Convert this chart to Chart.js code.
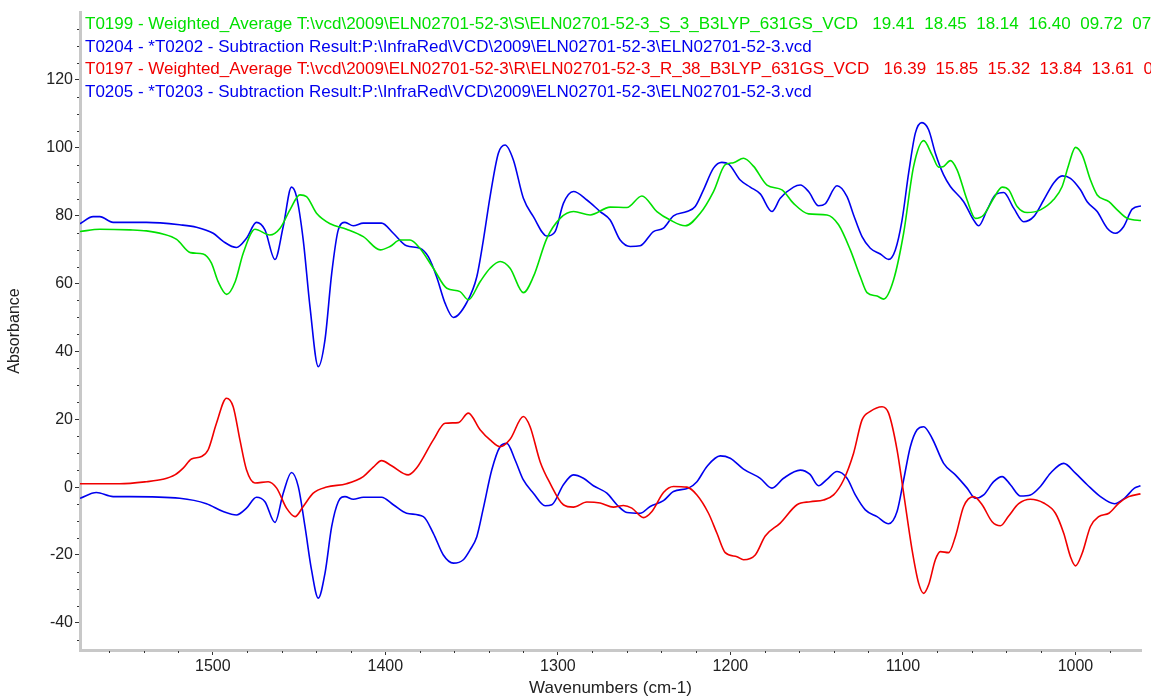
<!DOCTYPE html>
<html>
<head>
<meta charset="utf-8">
<title>VCD spectra</title>
<script src="https://cdn.jsdelivr.net/npm/chart.js@4.4.1/dist/chart.umd.min.js"></script>
<style>
  body { margin: 0; background: #fff; }
  canvas { display: block; }
</style>
</head>
<body>
<canvas id="vcdChart" width="1151" height="700"></canvas>
<script>
// axis ticks
const xTicks = [1500, 1400, 1300, 1200, 1100, 1000];
const yTicks = [-40, -20, 0, 20, 40, 60, 80, 100, 120];

// T0199 (green) - weighted average S
const t0199Wn = [1577, 1565.5, 1548, 1538.5, 1529, 1521, 1513, 1505.6, 1500.8, 1497, 1492, 1487, 1482.4, 1475.6, 1467, 1461, 1455.3, 1449.5, 1445.7, 1439.9, 1432, 1422.5, 1412.8, 1403, 1397.3, 1391.5, 1385.7, 1380, 1372.2, 1364.4, 1356.7, 1351.9, 1345, 1339.3, 1333.5, 1327.7, 1320, 1314.2, 1306.4, 1298.7, 1290.9, 1281.3, 1269.7, 1260, 1251.3, 1242.6, 1234.9, 1226.2, 1217.5, 1209.8, 1203, 1198.2, 1192.4, 1186.5, 1178.8, 1170.1, 1163.4, 1154.7, 1144, 1137.3, 1130.5, 1124.7, 1120.8, 1115, 1111.2, 1105.4, 1099.6, 1093.8, 1088, 1083.1, 1079.3, 1076.4, 1072.5, 1068.6, 1062.8, 1058, 1053.2, 1047.4, 1042.5, 1038.7, 1033.8, 1028, 1020.3, 1012.5, 1007.7, 1003.9, 1000, 996.1, 991.3, 987.4, 980.6, 975.8, 970, 961.3];
const t0199Abs = [75.3, 76.0, 75.8, 75.5, 74.6, 73.0, 69.1, 68.7, 66.0, 60.6, 56.8, 60.6, 68.9, 76.0, 74.3, 76.3, 81.7, 86.1, 85.6, 80.7, 77.6, 76.0, 73.8, 69.9, 70.9, 72.8, 72.8, 70.4, 64.5, 58.6, 57.6, 55.2, 60.6, 64.5, 66.5, 64.5, 57.3, 62.0, 73.3, 79.2, 81.2, 80.2, 82.5, 82.4, 85.8, 81.2, 78.7, 77.0, 80.7, 87.1, 95.0, 95.6, 96.9, 94.5, 89.0, 87.6, 83.6, 80.5, 80.2, 77.3, 69.9, 62.0, 57.3, 56.3, 55.4, 61.1, 74.8, 94.5, 102.1, 97.9, 94.3, 94.5, 96.2, 93.5, 84.6, 79.2, 80.2, 85.1, 88.4, 87.6, 82.7, 80.9, 81.7, 84.8, 88.6, 95.0, 100.1, 97.9, 90.5, 86.1, 84.1, 81.7, 79.2, 78.5];

// T0204 (blue, upper) - subtraction result
const t0204Wn = [1577, 1569.4, 1565.5, 1557.8, 1538.5, 1519.2, 1509.5, 1499.8, 1494, 1486.3, 1480.5, 1474.7, 1469.8, 1464, 1459.2, 1454.4, 1451.5, 1447.6, 1443.7, 1438.9, 1435, 1431.1, 1427.3, 1423.4, 1418.6, 1412.8, 1402.2, 1395.4, 1387.7, 1380, 1375.1, 1370.3, 1365.4, 1360.6, 1352.8, 1347, 1343.2, 1339.3, 1334.5, 1330.6, 1325.8, 1320, 1314.2, 1306.4, 1301.6, 1296.8, 1291, 1283.2, 1275.5, 1269.7, 1263.9, 1258.1, 1252.3, 1244.6, 1238.8, 1233, 1225.2, 1220.4, 1215.6, 1209.8, 1205, 1201, 1194.3, 1188.5, 1182.7, 1175.9, 1171.1, 1163.4, 1159.5, 1154.7, 1148.9, 1145, 1138.2, 1132.4, 1128.6, 1123.7, 1118.9, 1113.1, 1108.3, 1104.4, 1100.5, 1096.7, 1092.8, 1089, 1085.1, 1081.2, 1076.4, 1072.5, 1064.8, 1059, 1056.1, 1051.2, 1046.4, 1041.6, 1035.8, 1030, 1024.2, 1018.4, 1012.5, 1007.7, 1002.9, 997.1, 993.2, 987.4, 981.6, 976.8, 972, 967.1, 961.3];
const t0204Abs = [77.6, 79.7, 79.7, 78.0, 78.0, 77.3, 76.6, 74.8, 72.4, 70.6, 73.3, 78.0, 75.8, 67.1, 76.8, 88.4, 85.6, 72.8, 53.2, 35.5, 43.4, 63.0, 75.8, 78.0, 77.0, 77.8, 77.8, 74.8, 71.1, 70.4, 67.9, 62.0, 54.2, 50.0, 54.4, 62.0, 72.8, 85.6, 98.4, 100.8, 96.4, 85.1, 79.7, 74.0, 75.3, 83.6, 87.1, 84.6, 81.2, 78.7, 72.8, 70.9, 71.1, 75.3, 76.3, 79.9, 81.2, 82.7, 87.6, 94.0, 95.7, 95.2, 90.5, 88.4, 86.4, 81.2, 85.1, 88.4, 89.0, 87.1, 82.9, 83.5, 88.8, 85.6, 80.2, 73.8, 70.4, 68.7, 67.1, 69.9, 78.7, 92.5, 104.3, 107.4, 105.3, 98.4, 92.0, 88.6, 84.1, 78.7, 77.0, 81.7, 86.1, 86.8, 82.2, 78.2, 79.7, 84.6, 89.7, 91.7, 91.0, 87.6, 84.1, 81.2, 76.3, 74.8, 76.8, 81.9, 82.9];

// T0197 (red) - weighted average R
const t0197Wn = [1577, 1554, 1538.5, 1529, 1522, 1517.2, 1512.4, 1506.6, 1502.7, 1497.9, 1492.1, 1488.2, 1484.3, 1480.5, 1475.6, 1467.9, 1463, 1457.3, 1452.4, 1447.6, 1441.8, 1434, 1422.5, 1412.8, 1407, 1402.2, 1396.4, 1386.7, 1381.9, 1372.2, 1365.4, 1357.7, 1351.9, 1345.1, 1339.3, 1333.5, 1327.7, 1320, 1316.1, 1310.3, 1304.5, 1296.8, 1291, 1283.2, 1275.5, 1267.8, 1262, 1257.1, 1250.4, 1245.5, 1238.8, 1233, 1225.2, 1219.4, 1212.7, 1207.8, 1203, 1196.2, 1192.4, 1185.6, 1179.8, 1171.1, 1161.4, 1153.7, 1146, 1140.2, 1134.4, 1128.6, 1123.7, 1118.9, 1112.1, 1108.3, 1103.4, 1099.6, 1094.7, 1090.9, 1088, 1085.1, 1081.2, 1078.3, 1073.5, 1069.6, 1064.8, 1059, 1054.1, 1048.3, 1043.5, 1038.7, 1032.9, 1026.1, 1018.4, 1011.6, 1006.8, 1002.9, 1000, 996.1, 991.3, 986.5, 980.6, 974.8, 969.1, 962.3];
const t0197Abs = [1.0, 1.0, 1.6, 2.3, 3.6, 5.6, 8.3, 9.0, 11.0, 18.8, 26.2, 23.7, 13.9, 5.1, 1.2, 1.6, -0.3, -6.2, -8.7, -5.7, -1.8, 0.0, 1.0, 3.1, 5.9, 7.8, 6.3, 3.6, 5.6, 13.9, 18.8, 19.0, 21.8, 16.9, 13.9, 11.9, 14.1, 20.8, 17.8, 7.5, 1.1, -5.2, -5.9, -4.4, -4.7, -5.9, -5.4, -6.2, -9.0, -7.2, -1.6, 0.2, 0.0, -2.3, -7.7, -13.6, -19.3, -20.5, -21.4, -20.0, -14.4, -10.6, -5.2, -4.3, -3.8, -2.3, 2.1, 10.0, 19.8, 22.3, 23.7, 21.8, 11.0, -1.8, -18.5, -28.3, -31.3, -28.8, -21.4, -19.0, -19.3, -14.6, -5.7, -2.8, -5.2, -10.2, -11.4, -8.5, -4.9, -3.6, -4.7, -7.7, -13.6, -20.5, -23.2, -19.5, -11.6, -8.7, -7.7, -4.7, -2.8, -2.0];

// T0205 (blue, lower) - subtraction result
const t0205Wn = [1577, 1567.5, 1557.8, 1548.2, 1519.2, 1503.7, 1494, 1486.3, 1480.5, 1474.7, 1469.8, 1464, 1459.2, 1454.4, 1450.5, 1446.6, 1442.8, 1438.9, 1435, 1431.1, 1427.3, 1423.4, 1418.6, 1412.8, 1402.2, 1395.4, 1387.7, 1378, 1372.2, 1366.4, 1360.6, 1354.8, 1350.9, 1347, 1343.2, 1338.3, 1333.5, 1329.6, 1324.8, 1320, 1314.2, 1307.4, 1303.5, 1296.8, 1291, 1285.2, 1279.4, 1271.6, 1265.8, 1260, 1252.3, 1246.5, 1238.8, 1233, 1224.3, 1219.4, 1213.6, 1205.9, 1200.1, 1192.4, 1182.7, 1175.9, 1169.2, 1159.5, 1154, 1148.9, 1144, 1138.2, 1132.4, 1127.6, 1121.8, 1115, 1108.3, 1103.4, 1099.6, 1095.7, 1091.8, 1088, 1083.1, 1076.4, 1069.6, 1062.8, 1058, 1053.2, 1047.4, 1042.5, 1037.7, 1031.9, 1026.1, 1020.3, 1014.5, 1006.8, 1000, 993.2, 985.5, 977.4, 971.6, 965.8, 962.3];
const t0205Abs = [-3.3, -1.6, -2.8, -2.8, -3.3, -4.9, -7.2, -8.2, -6.2, -3.0, -4.3, -10.4, -1.8, 4.3, 0.2, -11.6, -24.4, -32.7, -25.4, -11.6, -4.3, -2.8, -3.6, -3.0, -3.0, -5.2, -7.7, -8.7, -13.6, -20.0, -22.4, -21.4, -18.5, -14.6, -6.2, 5.1, 11.9, 12.9, 8.0, 2.1, -1.8, -5.5, -5.2, 0.7, 3.6, 2.6, 0.4, -1.8, -5.2, -7.5, -7.7, -5.7, -4.0, -1.3, -0.3, 1.6, 6.1, 9.2, 8.5, 5.3, 2.6, -0.3, 2.6, 5.0, 3.8, 0.4, 2.3, 4.6, 2.6, -2.3, -6.7, -8.7, -10.8, -7.2, 2.1, 11.9, 16.9, 17.8, 14.4, 7.0, 3.6, -0.3, -3.3, -2.3, 1.6, 3.1, 0.7, -2.6, -2.3, 0.2, 4.1, 7.0, 4.1, 0.7, -2.8, -4.9, -3.3, -0.3, 0.4];

const legendLines = [
    { text: String.raw`T0199 - Weighted_Average T:\vcd\2009\ELN02701-52-3\S\ELN02701-52-3_S_3_B3LYP_631GS_VCD   19.41  18.45  18.14  16.40  09.72  07.`, color: "#00e000" },
    { text: String.raw`T0204 - *T0202 - Subtraction Result:P:\InfraRed\VCD\2009\ELN02701-52-3\ELN02701-52-3.vcd`, color: "#0000ee" },
    { text: String.raw`T0197 - Weighted_Average T:\vcd\2009\ELN02701-52-3\R\ELN02701-52-3_R_38_B3LYP_631GS_VCD   16.39  15.85  15.32  13.84  13.61  08`, color: "#f00000" },
    { text: String.raw`T0205 - *T0203 - Subtraction Result:P:\InfraRed\VCD\2009\ELN02701-52-3\ELN02701-52-3.vcd`, color: "#0000ee" }
];

const FONT = "'Liberation Sans', Arial, sans-serif";

function toPoints(wn, abs) {
    return wn.map((w, i) => ({ x: w, y: abs[i] }));
}

function makeSet(label, wn, abs, color) {
    return {
        label: label,
        data: toPoints(wn, abs),
        borderColor: color,
        borderWidth: 1.6,
        pointRadius: 0,
        fill: false,
        cubicInterpolationMode: "monotone"
    };
}

// white background, minor ticks and the text legend
const overlay = {
    id: "overlay",
    beforeDraw(chart) {
        const ctx = chart.ctx;
        ctx.save();
        ctx.fillStyle = "#fff";
        ctx.fillRect(0, 0, chart.width, chart.height);
        ctx.restore();
    },
    afterDraw(chart) {
        const { ctx, chartArea, scales } = chart;
        const x = scales.x, y = scales.y;
        ctx.save();
        ctx.strokeStyle = "#333";
        ctx.lineWidth = 1;
        ctx.beginPath();
        for (let v = 1560; v >= 970; v -= 20) {
            if (v % 100 === 0) continue;
            const px = Math.round(x.getPixelForValue(v)) + 0.5;
            ctx.moveTo(px, chartArea.bottom + 1);
            ctx.lineTo(px, chartArea.bottom + 3);
        }
        for (let v = -45; v <= 135; v += 5) {
            if (v % 20 === 0) continue;
            const py = Math.round(y.getPixelForValue(v)) + 0.5;
            ctx.moveTo(chartArea.left - 1, py);
            ctx.lineTo(chartArea.left - 3, py);
        }
        ctx.stroke();

        ctx.font = "17px " + FONT;
        ctx.textBaseline = "middle";
        const rows = [24, 47, 69.5, 92];
        legendLines.forEach((l, i) => {
            ctx.fillStyle = l.color;
            ctx.fillText(l.text, 85, rows[i]);
        });
        ctx.restore();
    }
};

const ctx = document.getElementById("vcdChart").getContext("2d");
const vcdChart = new Chart(ctx, {
    type: "line",
    data: {
        datasets: [
            makeSet("T0199", t0199Wn, t0199Abs, "#00e000"),
            makeSet("T0204", t0204Wn, t0204Abs, "#0000ee"),
            makeSet("T0197", t0197Wn, t0197Abs, "#f00000"),
            makeSet("T0205", t0205Wn, t0205Abs, "#0000ee")
        ]
    },
    options: {
        responsive: false,
        animation: false,
        layout: { padding: { top: 12, right: 10, left: 0, bottom: 0 } },
        plugins: {
            legend: { display: false },
            tooltip: { enabled: false }
        },
        scales: {
            x: {
                type: "linear",
                reverse: true,
                min: 962,
                max: 1577,
                afterBuildTicks: s => { s.ticks = xTicks.map(v => ({ value: v })); },
                afterFit: s => { s.height = 50; },
                grid: { drawOnChartArea: false, drawTicks: true, tickLength: 5, tickColor: "#333" },
                border: { display: true, color: "#c8c8c8", width: 3 },
                ticks: { color: "#222", font: { family: FONT, size: 16 }, padding: 2, maxRotation: 0, callback: v => String(v) },
                title: { display: true, text: "Wavenumbers (cm-1)", color: "#222", font: { family: FONT, size: 17 }, padding: { top: 0, bottom: 1 } }
            },
            y: {
                min: -48,
                max: 140,
                afterBuildTicks: s => { s.ticks = yTicks.map(v => ({ value: v })); },
                afterFit: s => { s.width = 80; },
                grid: { drawOnChartArea: false, drawTicks: true, tickLength: 5, tickColor: "#333" },
                border: { display: true, color: "#c8c8c8", width: 3 },
                ticks: { color: "#222", font: { family: FONT, size: 16 }, padding: 2, callback: v => String(v) },
                title: { display: true, text: "Absorbance", color: "#222", font: { family: FONT, size: 16 }, padding: { top: 5, bottom: 0 } }
            }
        }
    },
    plugins: [overlay]
});
</script>
</body>
</html>
